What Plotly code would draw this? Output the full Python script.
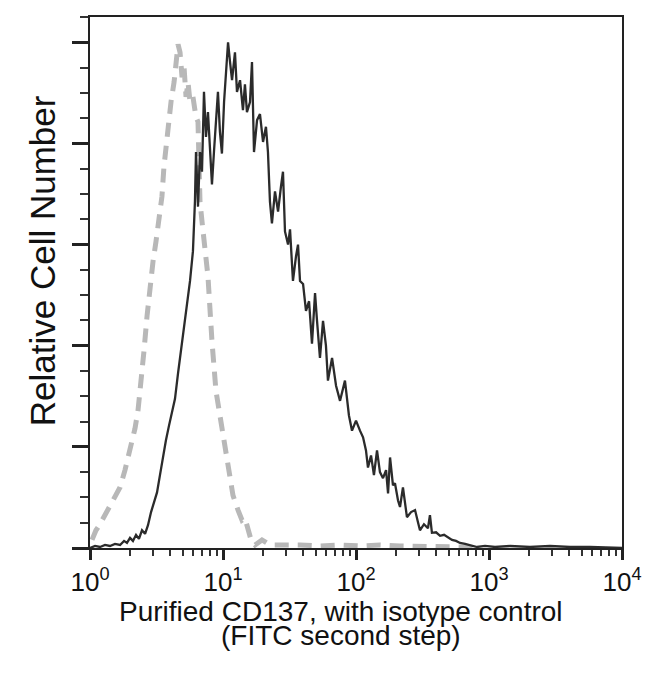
import plotly.graph_objects as go

# CD137 stained cells (solid): log10 fluorescence (decades) and relative cell number (% of max)
cd137_log = [0.000, 0.038, 0.075, 0.113, 0.150, 0.188, 0.226, 0.256, 0.278, 0.301,
             0.323, 0.346, 0.368, 0.391, 0.414, 0.436, 0.459, 0.481, 0.504, 0.526,
             0.549, 0.571, 0.594, 0.617, 0.639, 0.662, 0.684, 0.707, 0.729, 0.752,
             0.774, 0.789, 0.797, 0.812, 0.827, 0.842, 0.857, 0.872, 0.887, 0.902,
             0.917, 0.932, 0.947, 0.962, 0.977, 0.992, 1.008, 1.023, 1.038, 1.053,
             1.068, 1.090, 1.105, 1.128, 1.150, 1.165, 1.180, 1.203, 1.218, 1.233,
             1.256, 1.278, 1.301, 1.323, 1.338, 1.353, 1.368, 1.391, 1.414, 1.436,
             1.451, 1.466, 1.489, 1.504, 1.526, 1.549, 1.564, 1.579, 1.602, 1.624,
             1.647, 1.669, 1.692, 1.707, 1.729, 1.752, 1.774, 1.789, 1.820, 1.850,
             1.880, 1.917, 1.947, 1.970, 2.000, 2.030, 2.053, 2.075, 2.090, 2.113,
             2.135, 2.158, 2.180, 2.203, 2.226, 2.241, 2.256, 2.278, 2.293, 2.316,
             2.331, 2.353, 2.383, 2.414, 2.444, 2.466, 2.481, 2.511, 2.541, 2.556,
             2.571, 2.602, 2.632, 2.662, 2.684, 2.722, 2.752, 2.782, 2.820, 2.857,
             2.910, 2.970, 3.045, 3.158, 3.308, 3.459, 3.609, 3.759, 3.910, 4.000]
cd137_count = [0.0, 0.4, 0.2, 0.6, 0.4, 0.8, 0.6, 1.4, 1.0, 2.0,
               1.4, 2.6, 1.8, 3.5, 2.8, 4.5, 7.1, 8.9, 11.0, 14.4,
               18.3, 21.3, 24.2, 27.2, 29.5, 34.6, 39.0, 42.9, 47.8, 52.8,
               58.7, 68.5, 78.3, 67.5, 78.3, 74.4, 90.2, 81.3, 86.2, 78.3,
               71.9, 78.3, 84.3, 90.2, 82.3, 78.0, 88.2, 94.1, 100.0, 96.1,
               92.5, 98.0, 90.2, 92.5, 86.6, 91.7, 86.2, 88.2, 96.1, 78.3,
               84.6, 85.8, 80.3, 83.3, 78.3, 68.5, 64.2, 70.5, 66.5, 71.5,
               74.4, 62.6, 60.0, 63.0, 52.8, 57.7, 60.0, 52.8, 52.2, 46.9,
               48.8, 40.4, 50.4, 44.9, 37.6, 44.9, 40.0, 33.1, 37.6, 32.1,
               29.1, 33.1, 26.2, 23.2, 25.2, 23.2, 21.9, 19.3, 15.9, 18.3,
               14.4, 19.3, 15.0, 13.8, 15.4, 10.8, 17.9, 12.4, 12.8, 9.4,
               8.1, 12.0, 6.1, 7.1, 7.5, 5.1, 3.5, 4.7, 3.9, 6.5,
               3.0, 3.1, 2.4, 2.6, 2.2, 1.6, 1.4, 1.0, 0.8, 0.6,
               0.2, 0.4, 0.2, 0.4, 0.2, 0.4, 0.2, 0.2, 0.0, 0.0]

# Isotype control (dashed)
iso_log = [0.015, 0.045, 0.075, 0.113, 0.150, 0.188, 0.226, 0.263, 0.286, 0.316,
           0.338, 0.361, 0.383, 0.406, 0.429, 0.451, 0.474, 0.496, 0.519, 0.541,
           0.556, 0.571, 0.586, 0.609, 0.632, 0.647, 0.662, 0.677, 0.692, 0.707,
           0.722, 0.737, 0.752, 0.774, 0.797, 0.812, 0.827, 0.842, 0.865, 0.887,
           0.917, 0.947, 0.977, 1.008, 1.038, 1.075, 1.113, 1.143, 1.165, 1.188,
           1.211, 1.241, 1.293, 1.353, 1.429, 1.504, 1.579, 1.729, 1.880, 2.030,
           2.180, 2.331, 2.481, 2.632, 2.782, 2.932]
iso_count = [1.6, 3.5, 4.7, 6.5, 8.5, 10.4, 12.0, 15.4, 17.7, 21.3,
             23.6, 27.2, 32.1, 39.0, 45.9, 51.8, 56.7, 60.6, 64.6, 69.5,
             75.4, 79.3, 84.3, 88.2, 92.1, 97.0, 99.6, 98.0, 93.1, 95.1,
             89.2, 92.1, 88.2, 89.2, 85.2, 84.3, 68.5, 64.6, 58.7, 53.7,
             40.9, 31.1, 26.2, 21.3, 16.3, 10.4, 7.5, 5.5, 5.9, 3.5,
             1.6, 0.6, 1.6, 0.6, 0.6, 0.8, 0.6, 0.4, 0.6, 0.4,
             0.6, 0.4, 0.4, 0.2, 0.2, 0.0]

x_tick_vals = [1, 10, 100, 1000, 10000]
x_tick_text = ["10<sup>0</sup>", "10<sup>1</sup>", "10<sup>2</sup>", "10<sup>3</sup>", "10<sup>4</sup>"]
y_tick_vals = [0, 20, 40, 60, 80, 100]
y_minor_vals = [5, 10, 15, 25, 30, 35, 45, 50, 55, 65, 70, 75, 85, 90, 95, 105]
x_minor_vals = [m * 10 ** d for d in range(4) for m in range(2, 10)]

FONT = "Liberation Sans, Arial, Helvetica, sans-serif"

fig = go.Figure()
fig.add_trace(go.Scatter(
    x=[10 ** v for v in iso_log], y=iso_count, mode="lines",
    line=dict(color="#b8b8b8", width=5, dash="14px,9px"),
    showlegend=False, hoverinfo="skip"))
fig.add_trace(go.Scatter(
    x=[10 ** v for v in cd137_log], y=cd137_count, mode="lines",
    line=dict(color="#2b2b2b", width=2.3),
    showlegend=False, hoverinfo="skip"))

fig.update_layout(
    width=650, height=680,
    margin=dict(l=82, r=36, t=7, b=140),
    paper_bgcolor="white", plot_bgcolor="white",
    font=dict(family=FONT, color="#111111"),
    xaxis=dict(
        type="log", range=[0, 4],
        tickvals=x_tick_vals, ticktext=x_tick_text,
        ticks="outside", ticklen=10, tickwidth=3, tickcolor="#222222",
        tickfont=dict(size=26, family=FONT, color="#111111"),
        minor=dict(tickvals=x_minor_vals, ticks="outside", ticklen=6,
                   tickwidth=1.5, tickcolor="#333333", showgrid=False),
        showline=True, linecolor="#222222", linewidth=2, mirror=True,
        showgrid=False, zeroline=False),
    yaxis=dict(
        range=[0, 105],
        tickvals=y_tick_vals, showticklabels=False,
        ticks="outside", ticklen=16, tickwidth=3, tickcolor="#222222",
        minor=dict(tickvals=y_minor_vals, ticks="outside", ticklen=8,
                   tickwidth=1.5, tickcolor="#333333", showgrid=False),
        showline=True, linecolor="#222222", linewidth=2, mirror=True,
        showgrid=False, zeroline=False),
    annotations=[
        dict(text="Purified CD137, with isotype control", xref="paper", yref="paper",
             x=0.4718, y=-0.119, xanchor="center", yanchor="middle", showarrow=False,
             font=dict(size=28, family=FONT, color="#111111")),
        dict(text="(FITC second step)", xref="paper", yref="paper",
             x=0.4718, y=-0.165, xanchor="center", yanchor="middle", showarrow=False,
             font=dict(size=28, family=FONT, color="#111111")),
        dict(text="Relative Cell Number", xref="paper", yref="paper",
             x=-0.0902, y=0.54, xanchor="center", yanchor="middle", showarrow=False,
             textangle=-90, font=dict(size=35, family=FONT, color="#111111")),
    ],
)

fig.write_html("out.html")
